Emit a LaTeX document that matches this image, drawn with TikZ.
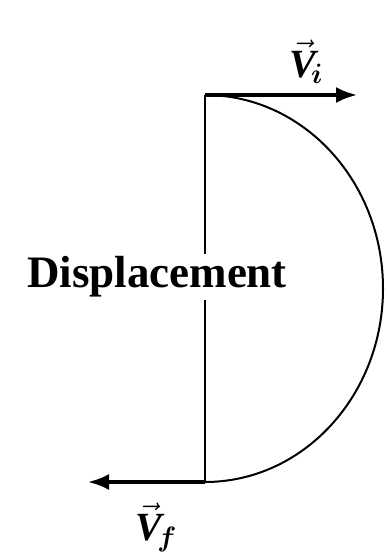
\documentclass[tikz,border=0pt]{standalone}
\usepackage{fix-cm}
\usepackage{fontspec}
\usepackage{amsmath,amssymb}
\setmainfont{Liberation Serif}
\usetikzlibrary{arrows.meta, positioning}

\begin{document}
\begin{tikzpicture}[x=1pt, y=1pt,
    path/.style={line width=2pt},
    vel/.style={line width=3.2pt, -{Latex[length=21pt,width=16pt]}},
    lbl/.style={font=\fontsize{40}{44}\selectfont, inner sep=0pt},
    tag/.style={font=\fontsize{45}{50}\selectfont\bfseries, fill=white, inner sep=3pt}]
    \useasboundingbox (0,0) rectangle (387,552);

    \coordinate (top) at (205,457);
    \coordinate (bot) at (205,70);
    \coordinate (tipR) at (357,457);
    \coordinate (tipL) at (88,70);

    % straight displacement and the half circle path
    \draw[path] (top) -- (bot);
    \draw[path] (top) arc[start angle=90, end angle=-90, x radius=178, y radius=193.5];
    \node[tag] (disp) at (157,275) {Displacement};

    % velocities
    \draw[vel] (top) -- (tipR);
    \draw[vel] (bot) -- (tipL);
    \node[lbl] (vi) at (306,490) {$\vec{\text{\bfseries\itshape V}}_{\!\boldsymbol{i}}$};
    \node[lbl] (vf) at (156,25) {$\vec{\text{\bfseries\itshape V}}_{\!\boldsymbol{f}}$};
\end{tikzpicture}
\end{document}
